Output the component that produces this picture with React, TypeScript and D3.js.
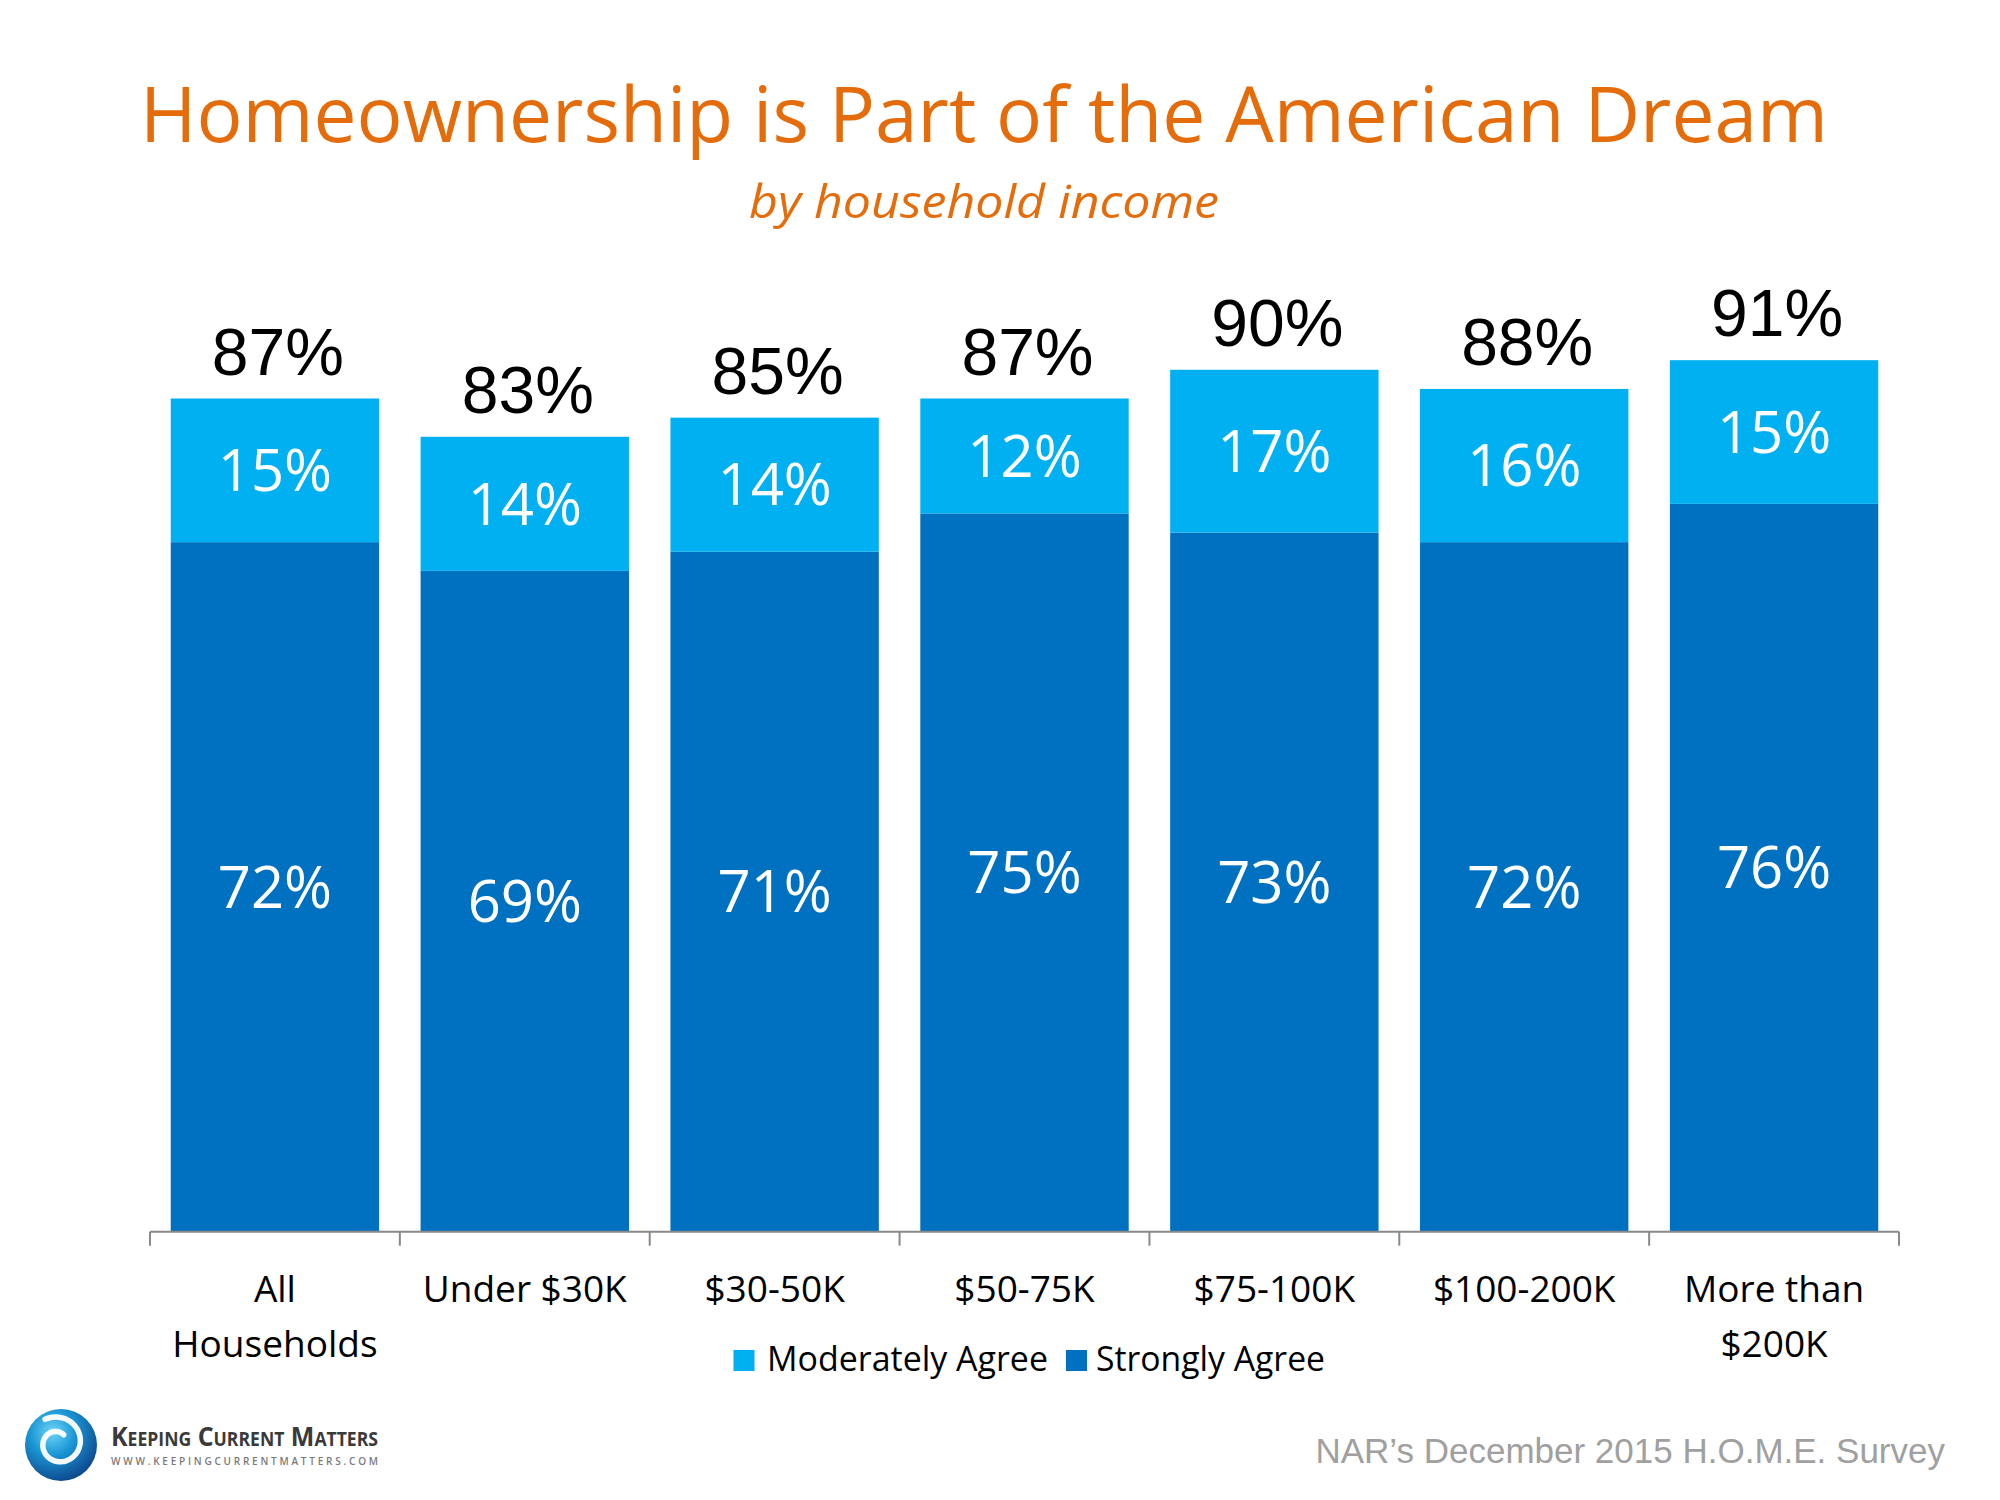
import React from "react";
import * as d3 from "d3";

// values
const categories = ["All Households", "Under $30K", "$30-50K", "$50-75K", "$75-100K", "$100-200K", "More than $200K"];
const categoryLines = [["All", "Households"], ["Under $30K"], ["$30-50K"], ["$50-75K"], ["$75-100K"], ["$100-200K"], ["More than", "$200K"]];
const stronglyAgree = [72, 69, 71, 75, 73, 72, 76];
const moderatelyAgree = [15, 14, 14, 12, 17, 16, 15];
const totalAgree = [87, 83, 85, 87, 90, 88, 91];

const SERIES = [
  { key: "moderately", label: "Moderately Agree", color: "#00B0F0" },
  { key: "strongly", label: "Strongly Agree", color: "#0070C0" },
];

const W = 2000;
const H = 1500;
const ORANGE = "#E46C0A";
const SANS = "'Open Sans', 'Noto Sans', sans-serif";
const ARIAL = "'Liberation Sans', Arial, sans-serif";

export default function App() {
  const baseline = 1231.7;
  const x = d3.scaleBand<string>().domain(categories).range([150, 1899]).paddingInner(0.166).paddingOuter(0.083);
  const y = d3.scaleLinear().domain([0, 100]).range([baseline, 274]);

  const rows = categories.map((c, i) => ({
    cat: c,
    strong: stronglyAgree[i],
    moderate: moderatelyAgree[i],
    total: totalAgree[i],
  }));
  const stack = d3.stack<any>().keys(["strong", "moderate"])(rows);

  const step = x.step();
  const tickXs = d3.range(categories.length + 1).map((i) => x.range()[0] + i * step);

  const valueSize = 58;
  const labelSize = 37;

  // logo swirl
  const spiral = d3.lineRadial<number>()
    .angle((t) => 0.6 - t * Math.PI * 2.35)
    .radius((t) => 10 + t * 17)
    .curve(d3.curveCatmullRom)(d3.range(0, 1.001, 0.02));

  return (
    <svg width={W} height={H} style={{ position: "absolute", left: 0, top: 0, background: "#fff" }}>
      <defs>
        <radialGradient id="logoGrad" cx="38%" cy="32%" r="78%">
          <stop offset="0" stopColor="#6fd6f7" />
          <stop offset="0.4" stopColor="#1b97d6" />
          <stop offset="1" stopColor="#0a3a80" />
        </radialGradient>
      </defs>

      {/* Title */}
      <text x={984} y={142} textAnchor="middle" fontFamily={SANS} fontSize={77} fill={ORANGE}
        textLength={1688} lengthAdjust="spacingAndGlyphs">
        Homeownership is Part of the American Dream
      </text>
      <text x={984} y={218} textAnchor="middle" fontFamily={SANS} fontStyle="italic" fontSize={46} fill={ORANGE}
        textLength={470} lengthAdjust="spacingAndGlyphs">
        by household income
      </text>

      {/* Bars */}
      {stack.map((layer, li) => (
        <g key={layer.key}>
          {layer.map((d, i) => {
            const x0 = x(categories[i]) || 0;
            const y0 = y(d[1]);
            const y1 = y(d[0]);
            const mid = (y0 + y1) / 2;
            const val = d[1] - d[0];
            return (
              <g key={categories[i]}>
                <rect x={x0} y={y0} width={x.bandwidth()} height={y1 - y0} fill={li === 0 ? SERIES[1].color : SERIES[0].color} />
                <text x={x0 + x.bandwidth() / 2} y={mid + valueSize * 0.357} textAnchor="middle"
                  fontFamily={SANS} fontSize={valueSize} fill="#fff">
                  {`${val}%`}
                </text>
              </g>
            );
          })}
        </g>
      ))}

      {/* Totals */}
      {rows.map((r) => (
        <text key={r.cat} x={(x(r.cat) || 0) + x.bandwidth() / 2 + 3} y={y(r.total) - 24} textAnchor="middle"
          fontFamily={ARIAL} fontSize={66} fill="#000">
          {`${r.total}%`}
        </text>
      ))}

      {/* X axis */}
      <line x1={x.range()[0]} x2={x.range()[1]} y1={baseline} y2={baseline} stroke="#898989" strokeWidth={2} />
      {tickXs.map((tx) => (
        <line key={tx} x1={tx} x2={tx} y1={baseline} y2={baseline + 14} stroke="#898989" strokeWidth={2} />
      ))}
      {categories.map((c, i) => (
        <text key={c} textAnchor="middle" fontFamily={SANS} fontSize={labelSize} fill="#000">
          {categoryLines[i].map((line, li) => (
            <tspan key={li} x={(x(c) || 0) + x.bandwidth() / 2} y={1302 + li * 55}>{line}</tspan>
          ))}
        </text>
      ))}

      {/* Legend */}
      <g>
        <rect x={733.5} y={1350} width={21} height={21} fill={SERIES[0].color} />
        <text x={767} y={1371} fontFamily={SANS} fontSize={35} fill="#000" textLength={281} lengthAdjust="spacingAndGlyphs">
          {SERIES[0].label}
        </text>
        <rect x={1066} y={1350} width={21} height={21} fill={SERIES[1].color} />
        <text x={1096} y={1371} fontFamily={SANS} fontSize={35} fill="#000" textLength={229} lengthAdjust="spacingAndGlyphs">
          {SERIES[1].label}
        </text>
      </g>

      {/* Source */}
      <text x={1945} y={1463} textAnchor="end" fontFamily={ARIAL} fontSize={35} fill="#A0A0A0">
        NAR’s December 2015 H.O.M.E. Survey
      </text>

      {/* Logo */}
      <g>
        <circle cx={61} cy={1445} r={36} fill="url(#logoGrad)" />
        <path d={spiral || ""} transform="translate(58,1443)" fill="none" stroke="#fff" strokeWidth={5.5} strokeLinecap="round" opacity={0.95} />
        <text x={111} y={1446} fontFamily={SANS} fontWeight={700} fontSize={27} fontVariant="small-caps" fill="#3a3a3a"
          textLength={267} lengthAdjust="spacingAndGlyphs">
          Keeping Current Matters
        </text>
        <text x={111} y={1465} fontFamily={SANS} fontWeight={600} fontSize={10} fill="#7a7a7a" textLength={267} lengthAdjust="spacing">
          WWW.KEEPINGCURRENTMATTERS.COM
        </text>
      </g>
    </svg>
  );
}
